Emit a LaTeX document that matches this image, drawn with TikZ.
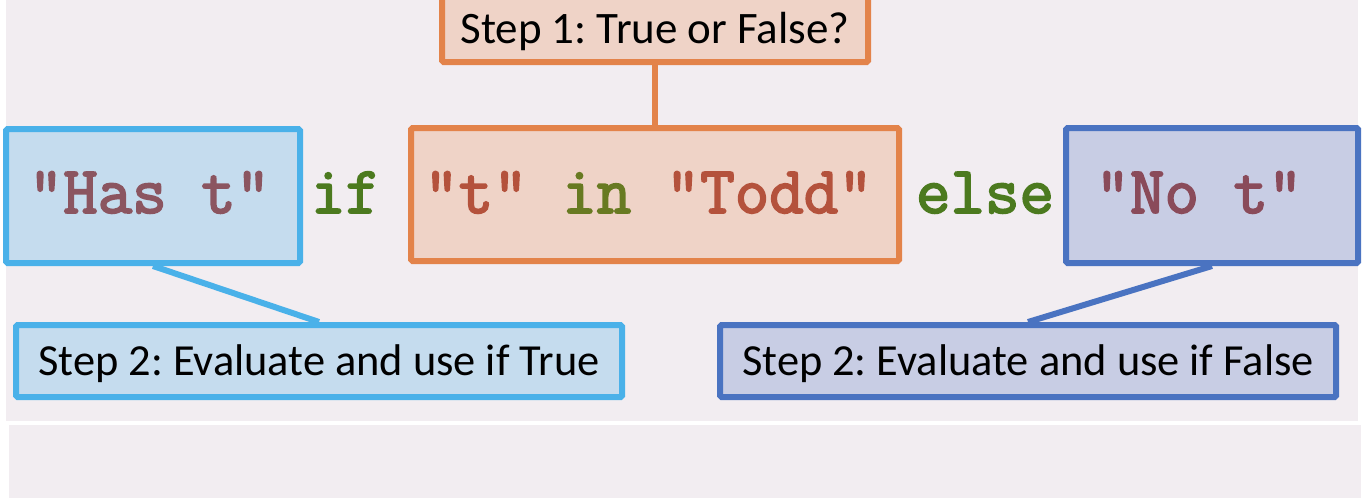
\documentclass[tikz,border=0pt]{standalone}
\usepackage{fontspec}
\setmainfont{Carlito}
\newfontfamily\codefont[FakeBold=2.6]{Latin Modern Mono}
\definecolor{bgc}{RGB}{242,237,241}
\definecolor{orangeb}{RGB}{227,131,74}
\definecolor{orangef}{RGB}{239,211,199}
\definecolor{lblueb}{RGB}{74,177,233}
\definecolor{lbluef}{RGB}{197,220,238}
\definecolor{dblueb}{RGB}{74,115,193}
\definecolor{dbluef}{RGB}{200,205,228}
\definecolor{kwgreen}{RGB}{76,122,31}
\definecolor{kwolive}{RGB}{104,122,34}
\definecolor{strorange}{RGB}{180,82,60}
\definecolor{strmauveA}{RGB}{139,85,96}
\definecolor{strmauveB}{RGB}{138,75,90}
\tikzset{
  boxbase/.style={draw, line width=6pt, rounded corners=1.5pt, inner sep=0pt, anchor=center},
  orangebox/.style={boxbase, draw=orangeb, fill=orangef},
  lbluebox/.style={boxbase, draw=lblueb, fill=lbluef},
  dbluebox/.style={boxbase, draw=dblueb, fill=dbluef},
  labeltext/.style={font=\frenchspacing\fontsize{45}{53}\selectfont, text height=29pt, text depth=0pt, text=black},
  steptwotext/.style={font=\frenchspacing\fontsize{44.4}{52}\selectfont, text height=28.6pt, text depth=0pt, text=black},
  codetext/.style={font=\codefont\fontsize{67}{78}\selectfont, inner sep=0pt, anchor=base},
  conn/.style={line width=6pt}
}
\begin{document}
\begin{tikzpicture}[x=1pt,y=-1pt]
\useasboundingbox (0,0) rectangle (1366,498);
\fill[bgc] (6,0) rectangle (1358,421);
\fill[bgc] (9,425) rectangle (1361,498);
% boxes
\node[orangebox, minimum width=426pt, minimum height=66pt, labeltext] (q) at (655,29) {Step 1: True or False?};
\node[orangebox, minimum width=488pt, minimum height=133pt] (cond) at (655,194.5) {};
\node[lbluebox, minimum width=294pt, minimum height=134pt] (hast) at (153,196) {};
\node[dbluebox, minimum width=292pt, minimum height=135pt] (not) at (1212,195.5) {};
\node[lbluebox, minimum width=606pt, minimum height=72pt, steptwotext] (evt) at (319,361) {Step 2: Evaluate and use if True};
\node[dbluebox, minimum width=616pt, minimum height=72pt, steptwotext] (evf) at (1028,361) {Step 2: Evaluate and use if False};
% connectors
\draw[conn, orangeb] (q.south) -- (cond.north);
\draw[conn, lblueb] (hast.south) -- (evt.north);
\draw[conn, dblueb] (not.south) -- (evf.north);
% code text
\node[codetext, text=strmauveA] (thas) at (149.5,213) {"Has t"};
\node[codetext, text=kwgreen] (tif) at (345.5,213) {if};
\node[codetext] (tcond) at (648.5,213) {\textcolor{strorange}{"t"} \textcolor{kwolive}{in} \textcolor{strorange}{"Todd"}};
\node[codetext, text=kwgreen] (telse) at (985,213) {else};
\node[codetext, text=strmauveB] (tno) at (1199,213) {"No t"};
\end{tikzpicture}
\end{document}
